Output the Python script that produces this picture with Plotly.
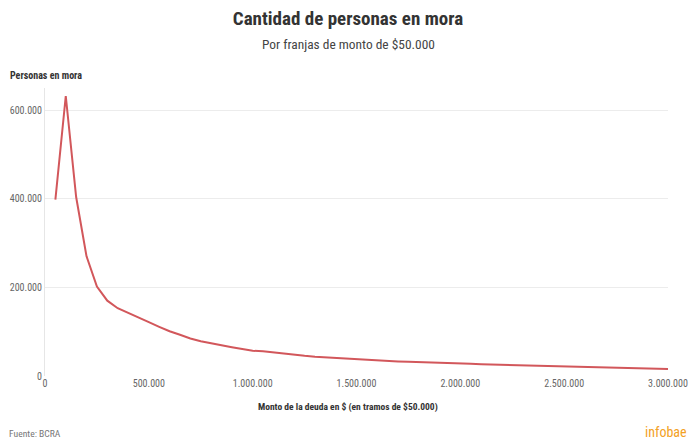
import plotly.graph_objects as go

# %% Data

monto = [50000 * i for i in range(1, 61)]

personas = [
    398000, 632000, 404000, 270000, 202000, 170000, 153000, 143000, 133000, 121600,
    111000, 101000, 93000, 84500, 78500, 74000, 68000, 65000, 61000, 57000,
    56000, 53000, 50000, 47500, 45500, 43500, 42000, 40500, 39000, 37500,
    36500, 35000, 34000, 33000, 32000, 31500, 30500, 30000, 29000, 28500,
    27500, 26500, 26000, 25500, 24500, 24000, 23000, 22500, 22000, 21500,
    21000, 20500, 20000, 19500, 19000, 18000, 17500, 17000, 16500, 16000,
]

x_ticks = [0, 500000, 1000000, 1500000, 2000000, 2500000, 3000000]
y_ticks = [0, 200000, 400000, 600000]

FONT = "Roboto Condensed, Liberation Sans Narrow, DejaVu Sans Condensed, Roboto, sans-serif"

# page centre expressed in plot-area (paper) units: plot spans 45..668 px of 696
XMID = (348 - 45) / 623

# %% Figure

fig = go.Figure()
fig.add_trace(go.Scatter(
    x = monto, y = personas, mode = "lines",
    line = dict(color = "#d2575b", width = 2),
    hoverinfo = "skip",
))

fig.update_layout(
    width = 696, height = 445,
    margin = dict(l = 45, r = 28, t = 88, b = 69),
    paper_bgcolor = "white", plot_bgcolor = "white",
    separators = ",.",
    showlegend = False,
    font = dict(family = FONT, color = "#666666", size = 10),
    xaxis = dict(
        range = [0, 3000000], tickvals = x_ticks, tickformat = ",d",
        showgrid = False, zeroline = False, showline = False, automargin = False,
        ticks = "", tickfont = dict(size = 10, color = "#666666"),
    ),
    yaxis = dict(
        range = [0, 650000], tickvals = y_ticks, tickformat = ",d",
        showgrid = True, gridcolor = "#ececec", gridwidth = 1,
        zeroline = False, showline = True, linecolor = "#e6e6e6", linewidth = 1,
        automargin = False,
        ticks = "", tickfont = dict(size = 10, color = "#666666"),
    ),
    title = dict(
        text = "<b>Cantidad de personas en mora</b>",
        x = 0.5, xanchor = "center", y = 1 - 18 / 445, yanchor = "middle",
        font = dict(size = 19, color = "#333333"),
    ),
)

fig.add_annotation(text = "Por franjas de monto de $50.000", xref = "paper", yref = "paper",
                   x = XMID, y = 1, xanchor = "center", yanchor = "middle", yshift = 44,
                   showarrow = False, font = dict(size = 13.4, color = "#444444"))
fig.add_annotation(text = "<b>Monto de la deuda en $ (en tramos de $50.000)</b>",
                   xref = "paper", yref = "paper",
                   x = XMID, y = 0, xanchor = "center", yanchor = "middle", yshift = -31,
                   showarrow = False, font = dict(size = 9.5, color = "#333333"))
fig.add_annotation(text = "<b>Personas en mora</b>", xref = "paper", yref = "paper",
                   x = 0, y = 1, xanchor = "left", yanchor = "middle", xshift = -37, yshift = 13,
                   showarrow = False, font = dict(size = 10, color = "#333333"))
fig.add_annotation(text = "Fuente: BCRA", xref = "paper", yref = "paper",
                   x = 0, y = 0, xanchor = "left", yanchor = "middle", xshift = -38, yshift = -57,
                   showarrow = False, font = dict(size = 9.6, color = "#777777"))
fig.add_annotation(text = "infobae", xref = "paper", yref = "paper",
                   x = 1, y = 0, xanchor = "right", yanchor = "middle", xshift = 21, yshift = -56,
                   showarrow = False, font = dict(size = 14, color = "#f3a124"))

# the page body has an 8px margin by default; drop it so the figure fills the window
fig.write_html("out.html", config = {"displayModeBar": False},
               post_script = "document.body.style.margin = '0px';")
